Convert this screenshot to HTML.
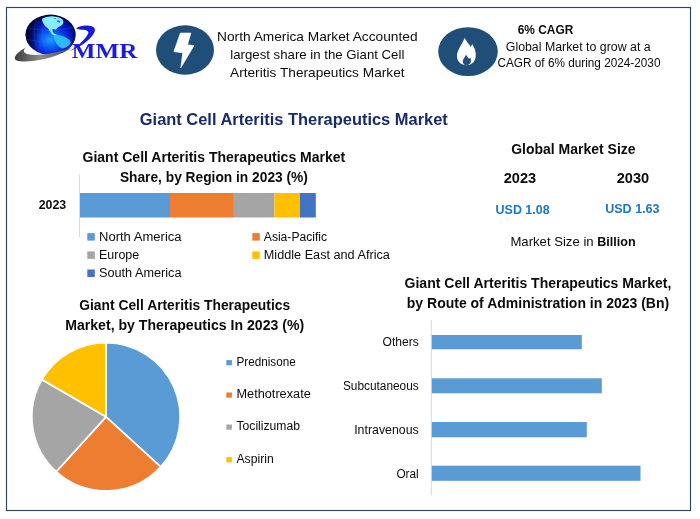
<!DOCTYPE html>
<html><head><meta charset="utf-8"><title>Giant Cell Arteritis Therapeutics Market</title>
<style>html,body{margin:0;padding:0;background:#fff}svg{display:block}text{white-space:pre}</style></head>
<body>
<svg width="700" height="519" viewBox="0 0 700 519">
<rect width="700" height="519" fill="#fff"/>
<rect x="6.5" y="7.5" width="684" height="503" fill="#fff" stroke="#2f455a" stroke-width="1.15"/>
<defs>
<radialGradient id="gl" cx="0.5" cy="0.62" r="0.62">
<stop offset="0" stop-color="#1aa0ff"/><stop offset="0.33" stop-color="#0a58f0"/><stop offset="0.58" stop-color="#0a22d8"/><stop offset="0.8" stop-color="#06109a"/><stop offset="0.94" stop-color="#020638"/><stop offset="1" stop-color="#01031e"/>
</radialGradient>
<linearGradient id="gd" x1="0" y1="0.4" x2="1" y2="0.5"><stop offset="0" stop-color="#01031e" stop-opacity="0.95"/><stop offset="0.12" stop-color="#020638" stop-opacity="0.75"/><stop offset="0.32" stop-color="#020638" stop-opacity="0"/><stop offset="0.9" stop-color="#020638" stop-opacity="0"/><stop offset="1" stop-color="#020638" stop-opacity="0.6"/></linearGradient>
<linearGradient id="sw" x1="0" y1="0" x2="1" y2="0"><stop offset="0" stop-color="#3c3c3c"/><stop offset="0.45" stop-color="#8c8c8c"/><stop offset="1" stop-color="#4a4a5a"/></linearGradient>
</defs>
<ellipse cx="50.6" cy="34.8" rx="25" ry="20.2" fill="url(#gl)"/>
<ellipse cx="50.6" cy="34.8" rx="25" ry="20.2" fill="url(#gd)"/>
<g fill="none" stroke="#3a8cff" stroke-opacity="0.35" stroke-width="0.5"><path d="M38 17.5 C32 28 33 44 41 53.5"/><path d="M45 15 C41 28 42 44 48 55"/><path d="M28 28 C40 31 60 31 74 27"/><path d="M26.5 39 C40 43 62 43 75 38"/></g>
<path d="M42.1 18.8 C45 16.8 50 16 54 16.4 C57 16.4 60 17.4 62 19 C63.6 20.6 63.8 22.6 62.7 24.2 C61.4 25.6 59.6 26.6 57.8 27.4 C56.6 28.4 56.4 29.6 55.4 29.8 C54.4 29 53.4 28.8 52.4 29.4 C52.2 31 53 32.6 54.4 33.8 C56.4 34.8 58.6 35.2 60.6 36.4 L58 37.2 C55.6 36.8 53.6 35.8 52 34.2 C50 32 48.8 29.6 47.6 28 C45.8 27 44.6 25.6 43.8 24 C42.6 22.4 42 20.6 42.1 18.8 Z" fill="#86ecff"/>
<ellipse cx="58.6" cy="21.3" rx="1.7" ry="1" fill="#2a6fe0" transform="rotate(20 58.6 21.3)"/><ellipse cx="55" cy="18.4" rx="1.2" ry="0.5" fill="#3a86e8"/>
<path d="M53.6 35.6 C56 34.4 60.4 35 64 36.6 C67.4 38.2 70 40.2 70.8 42.2 C70.6 44 69 45.8 66.8 46.8 C65.4 48 63.4 48.6 61.2 48.2 C59 46.8 57.2 44.8 56 42.8 C54.6 40.6 53.6 38 53.6 35.6 Z" fill="#2cb8fb"/>
<path d="M26.9 47 C23.6 49 22.8 51.6 25.4 53.3 C29.5 55.6 40 55.4 50 53.6 C58 52 66 49.6 71.4 47.4 C66 52 54 57 42 59.6 C31 61.8 21 62 16.6 60.4 C13.6 59 14.6 55.6 18.4 52.4 C20.8 50.4 23.6 48.6 26.9 47 Z" fill="url(#sw)"/>
<path d="M69.6 50 C74 47.6 79 44 83 39.6 C86.4 36 88.6 33 88.4 31.4 C88 29.4 85.4 28.6 82 28.8 C80 28.9 78 28.6 76.2 27.4 C79 25.4 83.4 24.4 87.4 24.7 C92 25 95 26.4 94.9 29 C94.8 32 92 35.4 88 39.4 C83 44 76.5 48 69.6 50 Z" fill="#1717e2" transform="translate(0 0.9)"/>
<text x="71.80" y="58.00" font-family='"Liberation Serif", serif' font-size="22.00" font-weight="700" fill="#1a1ae0" textLength="65.50" lengthAdjust="spacingAndGlyphs">MMR</text>
<ellipse cx="185" cy="50" rx="29" ry="24.7" fill="#1f4e79"/>
<polygon points="180.4,33.1 190.9,33.1 187.5,44.7 193.9,45.8 180.8,67.8 182.8,52.8 173.9,51.6" fill="#fff" stroke="#fff" stroke-width="0.7" stroke-linejoin="round"/>
<ellipse cx="468" cy="51.6" rx="29.8" ry="24.4" fill="#1f4e79"/>
<path d="M464.8 37.7 C466 42 470 44 470.5 47 C471.5 46 472 45 472 44 C475 48 476.5 53 475.5 58 C474.5 62.5 471 65.2 466.5 65.2 C461.5 65.2 457.5 62 457 57 C456.5 51 461 46 464.8 37.7 Z" fill="#fff"/>
<path d="M466 54.5 C467 57 468.5 57.5 469 59 C469.6 58.5 470 58 470 57.3 C471.3 59 471.3 62 470 63.6 C469 64.8 467.8 65.2 466.5 65.2 C464.5 65.2 462.8 63.8 462.8 61.5 C462.8 59 465 57.5 466 54.5 Z" fill="#1f4e79"/>
<text x="217.04" y="41.40" font-family='"Liberation Sans", sans-serif' font-size="13.20" fill="#0b0b0b" textLength="200.52" lengthAdjust="spacingAndGlyphs">North America Market Accounted</text>
<text x="230.25" y="59.00" font-family='"Liberation Sans", sans-serif' font-size="13.20" fill="#0b0b0b" textLength="174.10" lengthAdjust="spacingAndGlyphs">largest share in the Giant Cell</text>
<text x="230.06" y="76.60" font-family='"Liberation Sans", sans-serif' font-size="13.20" fill="#0b0b0b" textLength="174.49" lengthAdjust="spacingAndGlyphs">Arteritis Therapeutics Market</text>
<text x="517.74" y="33.75" font-family='"Liberation Sans", sans-serif' font-size="13.20" font-weight="700" fill="#0b0b0b" textLength="55.52" lengthAdjust="spacingAndGlyphs">6% CAGR</text>
<text x="505.79" y="50.75" font-family='"Liberation Sans", sans-serif' font-size="12.00" fill="#0b0b0b" textLength="144.83" lengthAdjust="spacingAndGlyphs">Global Market to grow at a</text>
<text x="497.51" y="67.20" font-family='"Liberation Sans", sans-serif' font-size="12.00" fill="#0b0b0b" textLength="162.97" lengthAdjust="spacingAndGlyphs">CAGR of 6% during 2024-2030</text>
<text x="139.80" y="125.00" font-family='"Liberation Sans", sans-serif' font-size="16.80" font-weight="700" fill="#182c69" textLength="308.00" lengthAdjust="spacingAndGlyphs">Giant Cell Arteritis Therapeutics Market</text>
<text x="82.50" y="161.80" font-family='"Liberation Sans", sans-serif' font-size="14.40" font-weight="700" fill="#0b0b0b" textLength="262.80" lengthAdjust="spacingAndGlyphs">Giant Cell Arteritis Therapeutics Market</text>
<text x="119.89" y="182.00" font-family='"Liberation Sans", sans-serif' font-size="14.40" font-weight="700" fill="#0b0b0b" textLength="188.02" lengthAdjust="spacingAndGlyphs">Share, by Region in 2023 (%)</text>
<line x1="79.5" y1="174.5" x2="79.5" y2="237" stroke="#d9d9d9" stroke-width="1"/>
<rect x="80.00" y="193.00" width="90.00" height="24.50" fill="#5b9bd5"/>
<rect x="170.00" y="193.00" width="63.90" height="24.50" fill="#ed7d31"/>
<rect x="233.90" y="193.00" width="40.50" height="24.50" fill="#a5a5a5"/>
<rect x="274.40" y="193.00" width="25.60" height="24.50" fill="#ffc000"/>
<rect x="300.00" y="193.00" width="15.80" height="24.50" fill="#4472c4"/>
<text x="38.75" y="208.80" font-family='"Liberation Sans", sans-serif' font-size="12.00" font-weight="700" fill="#0b0b0b" textLength="27.50" lengthAdjust="spacingAndGlyphs">2023</text>
<rect x="87.30" y="233.10" width="7.50" height="7.50" fill="#5b9bd5"/>
<text x="99.00" y="240.80" font-family='"Liberation Sans", sans-serif' font-size="12.48" fill="#0b0b0b" textLength="82.57" lengthAdjust="spacingAndGlyphs">North America</text>
<rect x="252.30" y="233.10" width="7.50" height="7.50" fill="#ed7d31"/>
<text x="263.80" y="240.80" font-family='"Liberation Sans", sans-serif' font-size="12.48" fill="#0b0b0b" textLength="63.28" lengthAdjust="spacingAndGlyphs">Asia-Pacific</text>
<rect x="87.30" y="251.40" width="7.50" height="7.50" fill="#a5a5a5"/>
<text x="99.00" y="259.10" font-family='"Liberation Sans", sans-serif' font-size="12.48" fill="#0b0b0b" textLength="40.17" lengthAdjust="spacingAndGlyphs">Europe</text>
<rect x="252.30" y="251.40" width="7.50" height="7.50" fill="#ffc000"/>
<text x="263.80" y="259.10" font-family='"Liberation Sans", sans-serif' font-size="12.48" fill="#0b0b0b" textLength="126.07" lengthAdjust="spacingAndGlyphs">Middle East and Africa</text>
<rect x="87.30" y="269.50" width="7.50" height="7.50" fill="#4472c4"/>
<text x="99.00" y="277.20" font-family='"Liberation Sans", sans-serif' font-size="12.48" fill="#0b0b0b" textLength="82.44" lengthAdjust="spacingAndGlyphs">South America</text>
<text x="511.25" y="153.80" font-family='"Liberation Sans", sans-serif' font-size="14.40" font-weight="700" fill="#0b0b0b" textLength="124.30" lengthAdjust="spacingAndGlyphs">Global Market Size</text>
<text x="503.75" y="183.30" font-family='"Liberation Sans", sans-serif' font-size="14.40" font-weight="700" fill="#0b0b0b" textLength="32.44" lengthAdjust="spacingAndGlyphs">2023</text>
<text x="616.75" y="183.30" font-family='"Liberation Sans", sans-serif' font-size="14.40" font-weight="700" fill="#0b0b0b" textLength="32.44" lengthAdjust="spacingAndGlyphs">2030</text>
<text x="495.60" y="214.00" font-family='"Liberation Sans", sans-serif' font-size="13.20" font-weight="700" fill="#1b76c4" textLength="54.00" lengthAdjust="spacingAndGlyphs">USD 1.08</text>
<text x="605.20" y="212.80" font-family='"Liberation Sans", sans-serif' font-size="13.20" font-weight="700" fill="#1b76c4" textLength="54.40" lengthAdjust="spacingAndGlyphs">USD 1.63</text>
<text x="510.40" y="246.30" font-family='"Liberation Sans", sans-serif' font-size="13.20" fill="#0b0b0b" textLength="86.89" lengthAdjust="spacingAndGlyphs">Market Size in </text>
<text x="597.29" y="246.30" font-family='"Liberation Sans", sans-serif' font-size="13.20" font-weight="700" fill="#0b0b0b" textLength="38.39" lengthAdjust="spacingAndGlyphs">Billion</text>
<path d="M106.0 416.8 L106.00 342.60 A74.2 74.2 0 0 1 160.71 466.93 Z" fill="#5b9bd5" stroke="#fff" stroke-width="1.8" stroke-linejoin="round"/>
<path d="M106.0 416.8 L160.71 466.93 A74.2 74.2 0 0 1 56.16 471.77 Z" fill="#ed7d31" stroke="#fff" stroke-width="1.8" stroke-linejoin="round"/>
<path d="M106.0 416.8 L56.16 471.77 A74.2 74.2 0 0 1 41.81 379.59 Z" fill="#a5a5a5" stroke="#fff" stroke-width="1.8" stroke-linejoin="round"/>
<path d="M106.0 416.8 L41.81 379.59 A74.2 74.2 0 0 1 106.00 342.60 Z" fill="#ffc000" stroke="#fff" stroke-width="1.8" stroke-linejoin="round"/>
<text x="79.26" y="309.90" font-family='"Liberation Sans", sans-serif' font-size="14.40" font-weight="700" fill="#0b0b0b" textLength="210.87" lengthAdjust="spacingAndGlyphs">Giant Cell Arteritis Therapeutics</text>
<text x="65.20" y="329.90" font-family='"Liberation Sans", sans-serif' font-size="14.40" font-weight="700" fill="#0b0b0b" textLength="239.00" lengthAdjust="spacingAndGlyphs">Market, by Therapeutics In 2023 (%)</text>
<rect x="226.30" y="360.10" width="5.60" height="5.20" fill="#5b9bd5"/>
<text x="236.50" y="365.80" font-family='"Liberation Sans", sans-serif' font-size="12.00" fill="#0b0b0b" textLength="59.25" lengthAdjust="spacingAndGlyphs">Prednisone</text>
<rect x="226.30" y="392.50" width="5.60" height="5.20" fill="#ed7d31"/>
<text x="236.50" y="398.20" font-family='"Liberation Sans", sans-serif' font-size="12.00" fill="#0b0b0b" textLength="74.25" lengthAdjust="spacingAndGlyphs">Methotrexate</text>
<rect x="226.30" y="424.50" width="5.60" height="5.20" fill="#a5a5a5"/>
<text x="236.50" y="430.20" font-family='"Liberation Sans", sans-serif' font-size="12.00" fill="#0b0b0b" textLength="63.50" lengthAdjust="spacingAndGlyphs">Tocilizumab</text>
<rect x="226.30" y="457.10" width="5.60" height="5.20" fill="#ffc000"/>
<text x="236.50" y="462.80" font-family='"Liberation Sans", sans-serif' font-size="12.00" fill="#0b0b0b" textLength="37.20" lengthAdjust="spacingAndGlyphs">Aspirin</text>
<text x="404.54" y="287.50" font-family='"Liberation Sans", sans-serif' font-size="14.40" font-weight="700" fill="#0b0b0b" textLength="266.92" lengthAdjust="spacingAndGlyphs">Giant Cell Arteritis Therapeutics Market,</text>
<text x="406.81" y="307.50" font-family='"Liberation Sans", sans-serif' font-size="14.40" font-weight="700" fill="#0b0b0b" textLength="262.38" lengthAdjust="spacingAndGlyphs">by Route of Administration in 2023 (Bn)</text>
<line x1="431.3" y1="320" x2="431.3" y2="495.5" stroke="#d9d9d9" stroke-width="1"/>
<rect x="431.80" y="335.00" width="150.00" height="14.30" fill="#5b9bd5"/>
<text x="382.50" y="345.80" font-family='"Liberation Sans", sans-serif' font-size="12.00" fill="#0b0b0b" textLength="36.20" lengthAdjust="spacingAndGlyphs">Others</text>
<rect x="431.80" y="378.30" width="170.00" height="15.00" fill="#5b9bd5"/>
<text x="342.95" y="390.00" font-family='"Liberation Sans", sans-serif' font-size="12.00" fill="#0b0b0b" textLength="75.75" lengthAdjust="spacingAndGlyphs">Subcutaneous</text>
<rect x="431.80" y="422.00" width="155.00" height="15.30" fill="#5b9bd5"/>
<text x="354.20" y="433.80" font-family='"Liberation Sans", sans-serif' font-size="12.00" fill="#0b0b0b" textLength="64.50" lengthAdjust="spacingAndGlyphs">Intravenous</text>
<rect x="431.80" y="465.70" width="208.70" height="15.10" fill="#5b9bd5"/>
<text x="396.40" y="477.50" font-family='"Liberation Sans", sans-serif' font-size="12.00" fill="#0b0b0b" textLength="22.30" lengthAdjust="spacingAndGlyphs">Oral</text>
</svg>
</body></html>
